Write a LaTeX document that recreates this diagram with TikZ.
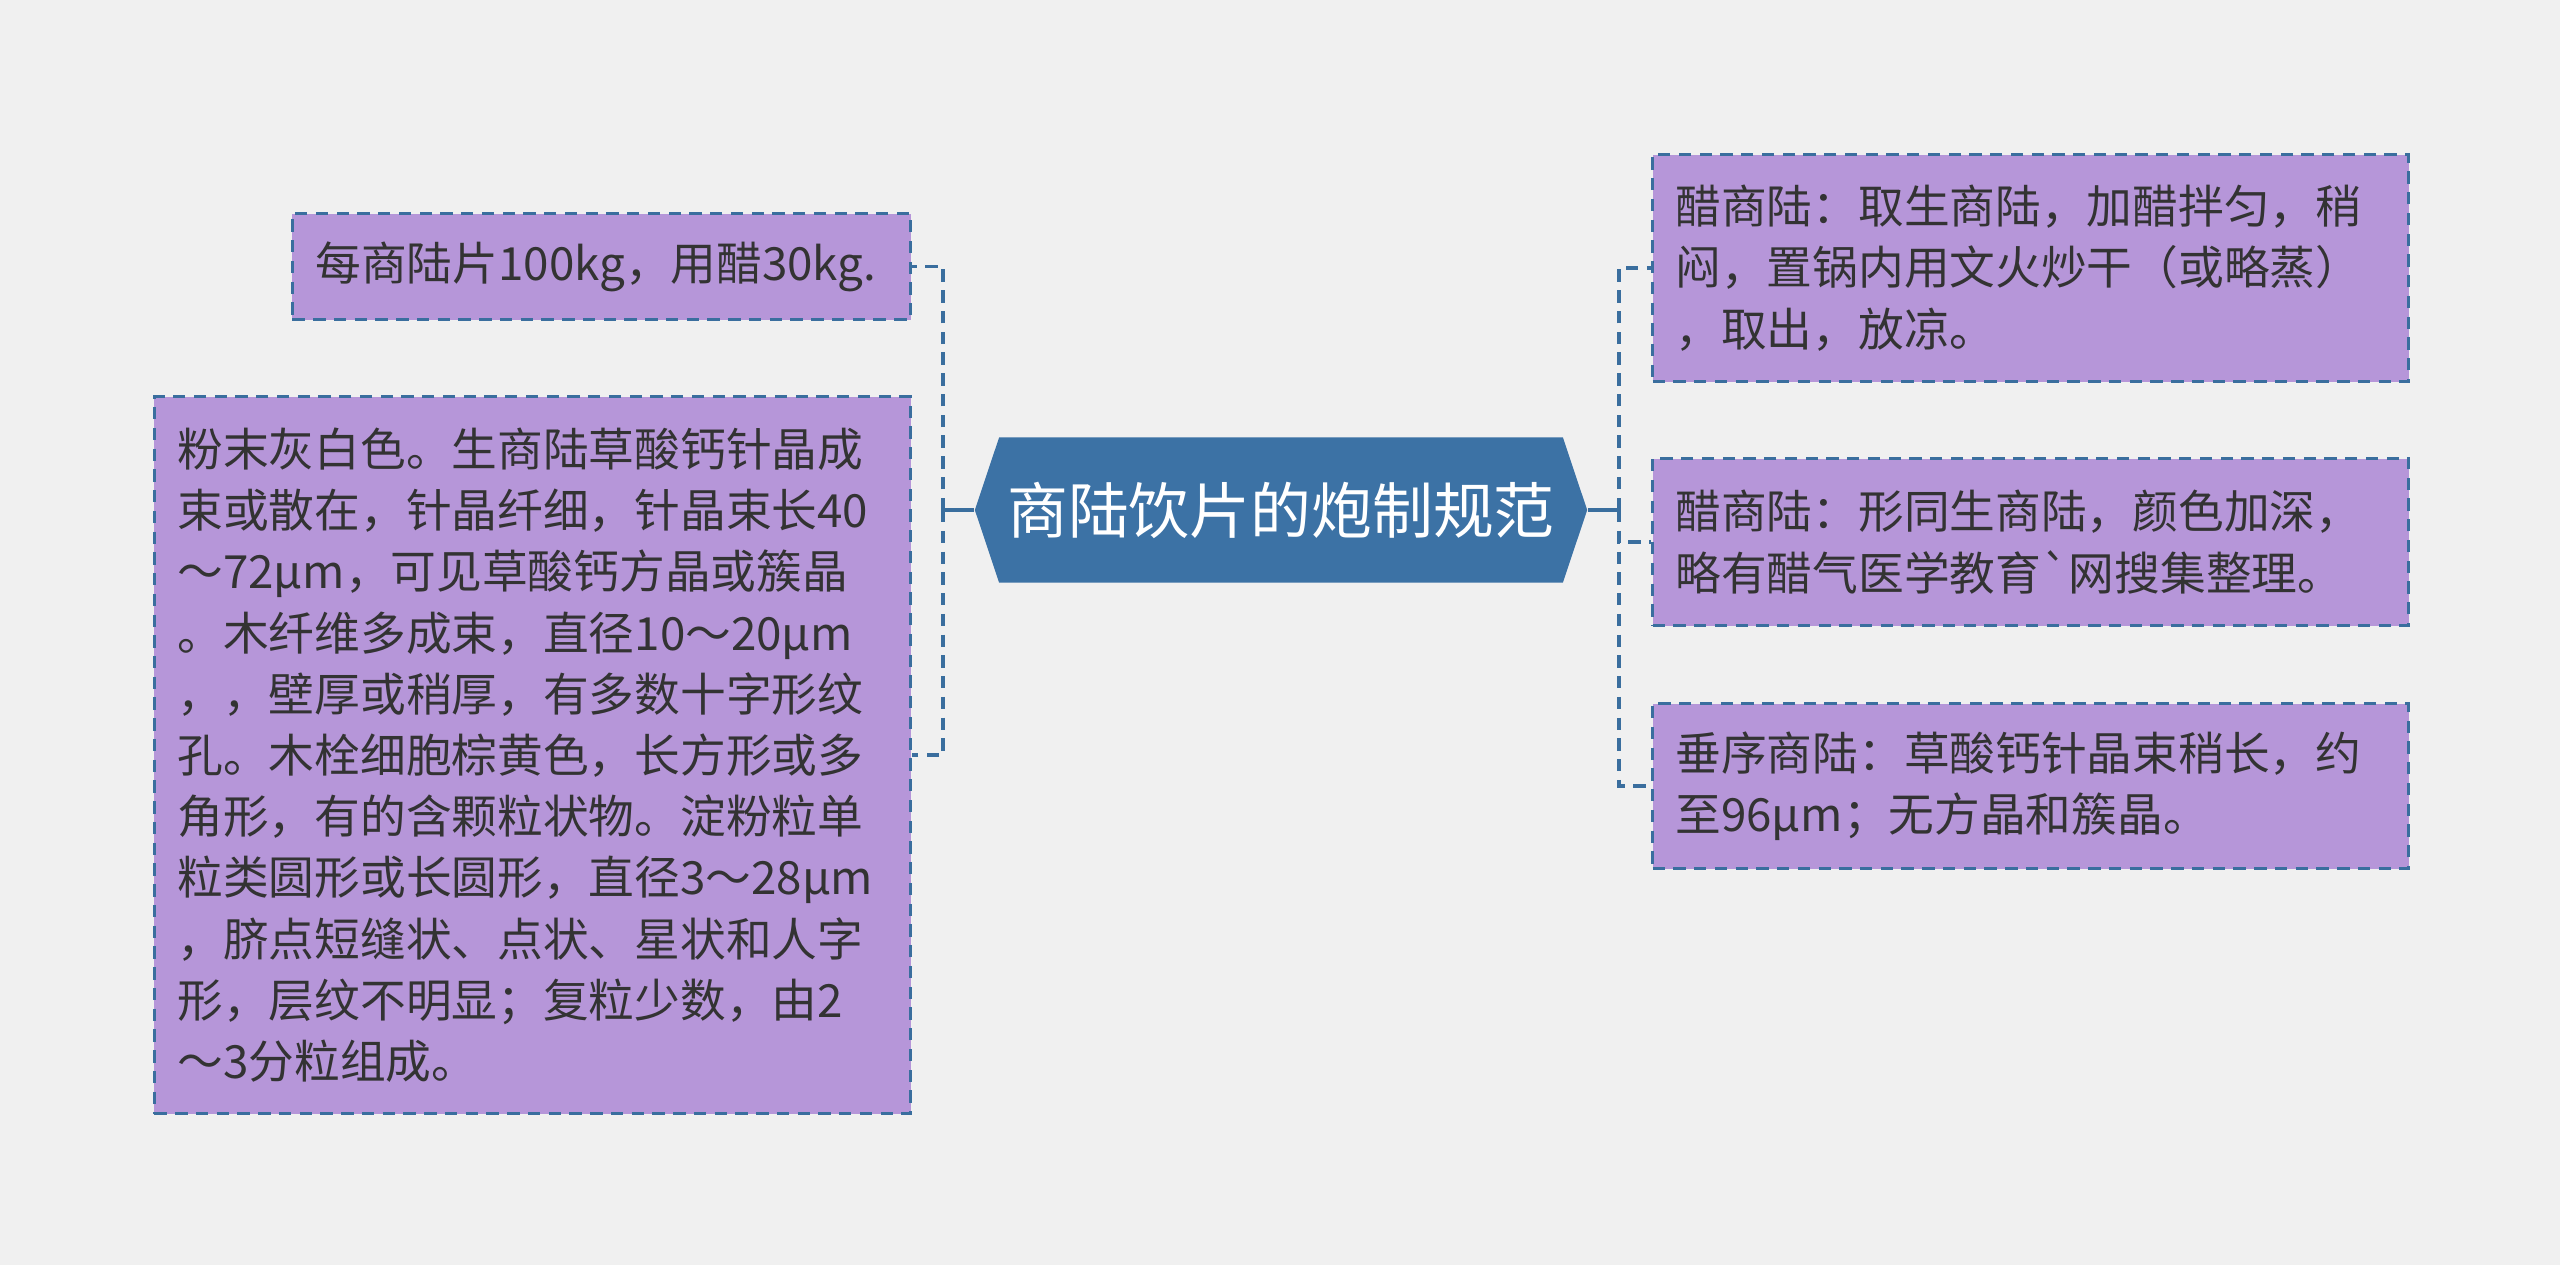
\documentclass[tikz,border=0pt]{standalone}
\usepackage{fontspec}
\setmainfont{Noto Sans CJK SC}[Ligatures=TeXOff]
\usepackage{tikz}
\usetikzlibrary{
  % signal shape for the centre node
  shapes.symbols,%
  positioning
}
\definecolor{bgcol}{HTML}{F0F0F0}
\definecolor{leafcol}{HTML}{B696D9}
\definecolor{edgecol}{HTML}{3A6E9E}
\definecolor{rootcol}{HTML}{3C72A5}
\definecolor{txtcol}{HTML}{333333}
\tikzset{>=latex}
\tikzset{leaf/.style={draw=edgecol, fill=leafcol, line width=0.85pt,
    dash pattern=on 3.5pt off 2.4pt, anchor=north west, align=left,
    inner xsep=0.23cm, inner ysep=0pt, text=txtcol,
    font=\fontsize{13pt}{17.4pt}\selectfont}}
\tikzset{root/.style={shape=signal, signal to=west and east,
    signal pointer angle=143, fill=rootcol, text=white, inner sep=0pt,
    minimum width=6.12cm, minimum height=1.45cm,
    font=\fontsize{17.3pt}{20pt}\selectfont}}
\tikzset{trunk/.style={draw=edgecol, line width=1pt}}
\tikzset{link/.style={trunk, dash pattern=on 3.5pt off 2.4pt}}

\begin{document}
\begin{tikzpicture}[x=0.01cm, y=-0.01cm]
  \fill[bgcol] (0, 0) rectangle (2560, 1265); %
  \node[root] (root) at (1281, 510) {商陆饮片的炮制规范}; %
  % left side
  \node[leaf, minimum width=6.18cm, minimum height=1.06cm, text width=5.72cm]
    (dose) at (291, 212) {每商陆片100kg，用醋30kg.}; %
  \node[leaf, minimum width=7.56cm, minimum height=7.17cm, text width=7.10cm]
    (powder) at (153, 395) {粉末灰白色。生商陆草酸钙针晶成\\
      束或散在，针晶纤细，针晶束长40\\
      ～72μm，可见草酸钙方晶或簇晶\\
      。木纤维多成束，直径10～20μm\\
      ，，壁厚或稍厚，有多数十字形纹\\
      孔。木栓细胞棕黄色，长方形或多\\
      角形，有的含颗粒状物。淀粉粒单\\
      粒类圆形或长圆形，直径3～28μm\\
      ，脐点短缝状、点状、星状和人字\\
      形，层纹不明显；复粒少数，由2\\
      ～3分粒组成。}; %
  % right side
  \node[leaf, minimum width=7.56cm, minimum height=2.27cm, text width=7.10cm]
    (process) at (1651, 153) {醋商陆：取生商陆，加醋拌匀，稍\\
      闷，置锅内用文火炒干（或略蒸）\\
      ，取出，放凉。}; %
  \node[leaf, minimum width=7.56cm, minimum height=1.67cm, text width=7.10cm]
    (looks) at (1651, 457) {醋商陆：形同生商陆，颜色加深，\\
      略有醋气医学教育`网搜集整理。}; %
  \node[leaf, minimum width=7.56cm, minimum height=1.65cm, text width=7.10cm]
    (variety) at (1651, 702) {垂序商陆：草酸钙针晶束稍长，约\\
      至96μm；无方晶和簇晶。}; %
  % connectors
  \coordinate (lbus) at (943, 510); %
  \coordinate (rbus) at (1619, 510); %
  \draw[trunk] (root.west) -- (lbus); %
  \draw[link] (lbus) |- (dose.east); %
  \draw[link] (lbus) |- (powder.east); %
  \draw[trunk] (root.east) -- (rbus); %
  \draw[link] (rbus) |- (process.west); %
  \draw[link] (rbus) |- (looks.west); %
  \draw[link] (rbus) |- (variety.west); %
\end{tikzpicture}
\end{document}
